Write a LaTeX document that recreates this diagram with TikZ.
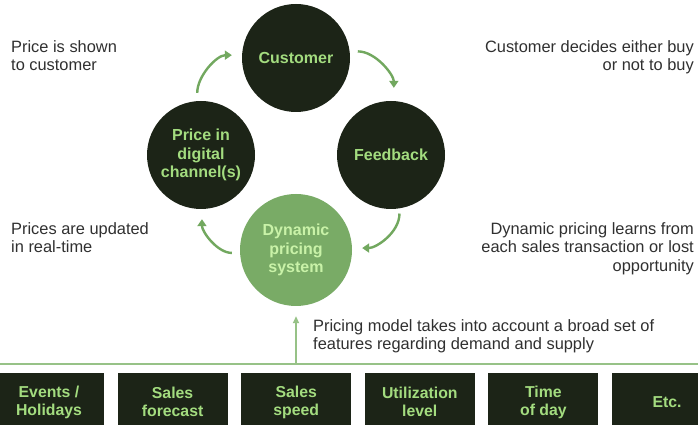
\documentclass[tikz,border=0pt]{standalone}
\usepackage{fontspec}
\setmainfont{Liberation Sans}
\usetikzlibrary{arrows.meta}
\definecolor{darkc}{HTML}{1C2417}
\definecolor{greentxt}{HTML}{A3DC7F}
\definecolor{midgreen}{HTML}{79AB66}
\definecolor{lighttxt}{HTML}{C9F2A8}
\definecolor{arrowc}{HTML}{72A85F}
\definecolor{linec}{HTML}{97C287}
\definecolor{greytxt}{HTML}{303030}
\begin{document}
\begin{tikzpicture}[x=1pt,y=1pt,
  darkcircle/.style={circle,fill=darkc,text=greentxt,minimum size=108pt,inner sep=0pt,align=center,font=\fontsize{16}{18.5}\selectfont\bfseries},
  dyncircle/.style={circle,fill=midgreen,text=lighttxt,minimum size=112pt,inner sep=0pt,align=center,font=\fontsize{16}{18.5}\selectfont\bfseries},
  featbox/.style={rectangle,fill=darkc,text=greentxt,minimum width=110pt,minimum height=58pt,inner sep=0pt,align=center,font=\fontsize{15.8}{18}\selectfont\bfseries},
  note/.style={text=greytxt,inner sep=0pt,font=\fontsize{16.4}{18.8}\selectfont},
  cyc/.style={draw=arrowc,line width=2.4pt,-{Triangle[length=7pt,width=9pt]},shorten <=8pt,shorten >=10pt},
  uparr/.style={draw=linec,line width=2pt,-{Triangle[length=7pt,width=6pt]}}
]
\clip (0,0) rectangle (698,425);
\fill[white] (0,0) rectangle (698,425);

% cycle circles
\node[darkcircle] (cust) at (296,367) {Customer};
\node[darkcircle] (price) at (201,270) {Price in\\digital\\channel(s)};
\node[darkcircle] (feed) at (391,270) {Feedback};
\node[dyncircle] (dyn) at (296,175) {Dynamic\\pricing\\system};

% cycle arrows
\draw[cyc,shorten >=13pt] (cust.7) to[out=0,in=90] (feed.87);
\draw[cyc,shorten <=5pt] (feed.-81) to[out=-90,in=0] (dyn.2);
\draw[cyc] (dyn.183) to[out=180,in=-90] (price.-89);
\draw[cyc] (price.94) to[out=90,in=180] (cust.177);

% side notes
\node[note,anchor=north west,align=left] (n1) at (11,385) {Price is shown\\to customer};
\node[note,anchor=north east,align=right] (n2) at (694,385) {Customer decides either buy\\or not to buy};
\node[note,anchor=north west,align=left] (n3) at (11,203) {Prices are updated\\in real-time};
\node[note,anchor=north east,align=right] (n4) at (694,203) {Dynamic pricing learns from\\each sales transaction or lost\\opportunity};
\node[note,anchor=north west,align=left] (n5) at (313,106) {Pricing model takes into account a broad set of\\features regarding demand and supply};

% base line and up arrow
\coordinate (hl) at (0,61);
\coordinate (hr) at (698,61);
\coordinate (hm) at (296,61);
\draw[linec,line width=2pt] (hl) -- (hr);
\draw[uparr,shorten >=10pt] (hm) -- (dyn.south);

% feature boxes
\node[featbox] (b1) at (49,23) {Events /\\Holidays};
\node[featbox] (b2) at (172.6,23) {Sales\\forecast};
\node[featbox] (b3) at (296.2,23) {Sales\\speed};
\node[featbox] (b4) at (419.8,23) {Utilization\\level};
\node[featbox] (b5) at (543.4,23) {Time\\of day};
\node[featbox] (b6) at (667,23) {Etc.};
\end{tikzpicture}
\end{document}
